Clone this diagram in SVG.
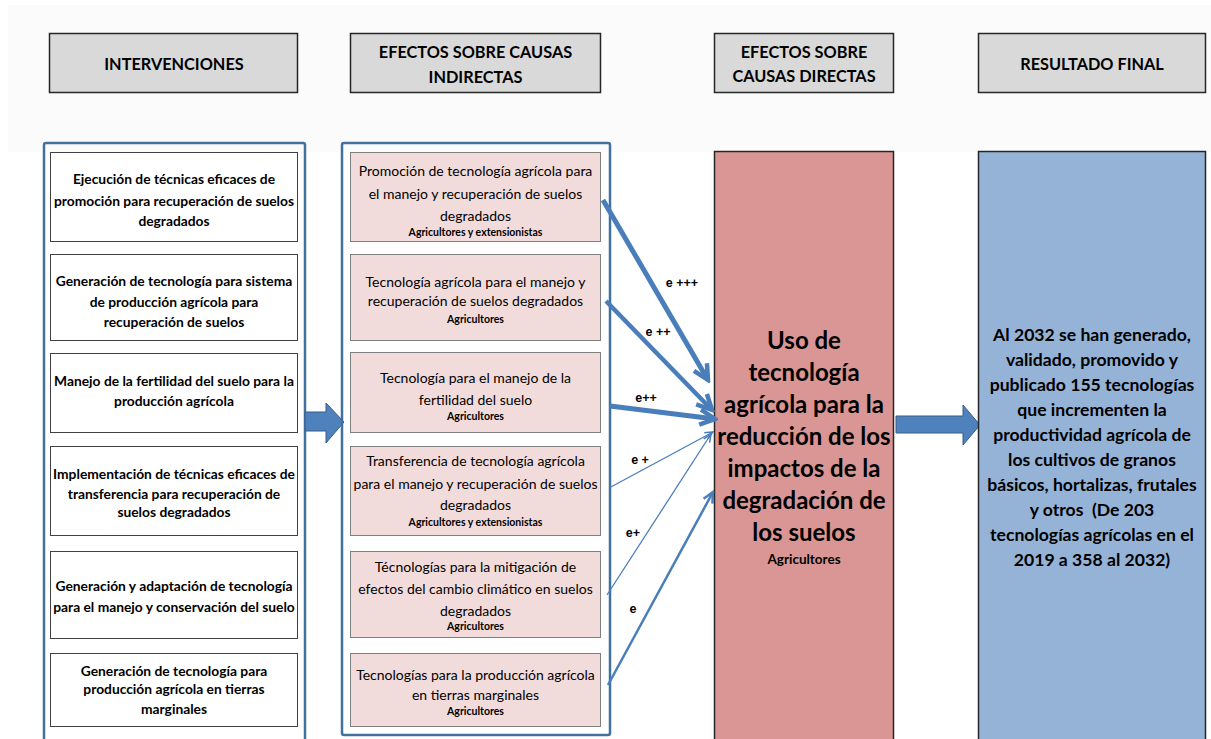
<svg xmlns="http://www.w3.org/2000/svg" width="1211" height="739" viewBox="0 0 1211 739">
<style>
text{font-family:Lato,"Open Sans","Liberation Sans",sans-serif;text-anchor:middle;fill:#000}
.hdr rect{fill:#D9D9D9;stroke:#262626;stroke-width:1.5}
.hdr text{font-weight:bold;font-size:16.3px}
.cont{fill:none;stroke:#41719C;stroke-width:2.5}
.lbox rect{fill:#fff;stroke:#404040;stroke-width:1}
.lbox text{font-weight:bold;font-size:13.8px}
.mbox rect{fill:#F2DCDB;stroke:#7F7F7F;stroke-width:1}
.mbox text{font-size:14px}
.mbox text.s{font-weight:bold;font-size:10.5px}
.blk{fill:#4F81BD;stroke:#385D8A;stroke-width:1}
.con{stroke:#4A7EBB;fill:none}
.lab{font-family:"Liberation Sans",Arial,sans-serif;font-weight:bold;font-size:12.5px}
</style>
<defs>
<marker id="mThick" markerUnits="userSpaceOnUse" viewBox="0 0 20 20" markerWidth="20" markerHeight="20" refX="17" refY="10" orient="auto">
<path d="M2,2.5 L17,10 L2,17.5" fill="none" stroke="#4A7EBB" stroke-width="4.5" stroke-linejoin="miter"/>
</marker>
<marker id="mMed" markerUnits="userSpaceOnUse" viewBox="0 0 14 14" markerWidth="14" markerHeight="14" refX="12" refY="7" orient="auto">
<path d="M1.5,2 L12,7 L1.5,12" fill="none" stroke="#4A7EBB" stroke-width="2.5"/>
</marker>
<marker id="mThin" markerUnits="userSpaceOnUse" viewBox="0 0 10 10" markerWidth="10" markerHeight="10" refX="9" refY="5" orient="auto">
<path d="M1,1.5 L9,5 L1,8.5" fill="none" stroke="#4A7EBB" stroke-width="1.5"/>
</marker>
</defs>
<rect x="0" y="0" width="1211" height="739" fill="#fff"/>
<rect x="8" y="5" width="1203" height="147" fill="#FBFBFB"/>

<g id="hdr-intervenciones" class="hdr">
<rect x="49.5" y="33.5" width="248" height="59"/>
<text x="174" y="70">INTERVENCIONES</text>
</g>
<g id="hdr-indirectas" class="hdr">
<rect x="350.5" y="33.5" width="250" height="59"/>
<text x="475.5" y="58">EFECTOS SOBRE CAUSAS</text>
<text x="475.5" y="83">INDIRECTAS</text>
</g>
<g id="hdr-directas" class="hdr">
<rect x="714.5" y="33.5" width="179" height="59"/>
<text x="804" y="58">EFECTOS SOBRE</text>
<text x="804" y="82">CAUSAS DIRECTAS</text>
</g>
<g id="hdr-resultado" class="hdr">
<rect x="978.5" y="33.5" width="227" height="59"/>
<text x="1092" y="70">RESULTADO FINAL</text>
</g>

<g id="intervenciones">
<rect class="cont" x="44" y="143" width="261" height="620" rx="2"/>
<g id="int-1" class="lbox">
<rect x="50.5" y="152.5" width="247" height="89"/>
<text x="174" y="184">Ejecución de técnicas eficaces de</text>
<text x="174" y="206">promoción para recuperación de suelos</text>
<text x="174" y="226">degradados</text>
</g>
<g id="int-2" class="lbox">
<rect x="50.5" y="254.5" width="247" height="86"/>
<text x="174" y="286">Generación de tecnología para sistema</text>
<text x="174" y="307">de producción agrícola para</text>
<text x="174" y="327">recuperación de suelos</text>
</g>
<g id="int-3" class="lbox">
<rect x="50.5" y="353.5" width="247" height="79"/>
<text x="174" y="386">Manejo de la fertilidad del suelo para la</text>
<text x="174" y="406">producción agrícola</text>
</g>
<g id="int-4" class="lbox">
<rect x="50.5" y="446.5" width="247" height="89"/>
<text x="174" y="479">Implementación de técnicas eficaces de</text>
<text x="174" y="499">transferencia para recuperación de</text>
<text x="174" y="517">suelos degradados</text>
</g>
<g id="int-5" class="lbox">
<rect x="50.5" y="551.5" width="247" height="87"/>
<text x="174" y="591">Generación y adaptación de tecnología</text>
<text x="174" y="612">para el manejo y conservación del suelo</text>
</g>
<g id="int-6" class="lbox">
<rect x="50.5" y="653.5" width="247" height="73"/>
<text x="174" y="676">Generación de tecnología para</text>
<text x="174" y="694">producción agrícola en tierras</text>
<text x="174" y="714">marginales</text>
</g>
</g>

<g id="arrow-left">
<polygon class="blk" points="305,412 326,412 326,403 344,422 326,443 326,431 305,431"/>
</g>

<g id="indirectas">
<rect class="cont" x="342" y="143" width="268" height="592" rx="2"/>
<g id="ind-1" class="mbox">
<rect x="350.5" y="152.5" width="250" height="89"/>
<text x="475.5" y="176">Promoción de tecnología agrícola para</text>
<text x="475.5" y="199">el manejo y recuperación de suelos</text>
<text x="475.5" y="221">degradados</text>
<text class="s" x="475.5" y="235.5">Agricultores y extensionistas</text>
</g>
<g id="ind-2" class="mbox">
<rect x="350.5" y="254.5" width="250" height="86"/>
<text x="475.5" y="287">Tecnología agrícola para el manejo y</text>
<text x="475.5" y="306">recuperación de suelos degradados</text>
<text class="s" x="475.5" y="322.5">Agricultores</text>
</g>
<g id="ind-3" class="mbox">
<rect x="350.5" y="352.5" width="250" height="80"/>
<text x="475.5" y="383">Tecnología para el manejo de la</text>
<text x="475.5" y="405">fertilidad del suelo</text>
<text class="s" x="475.5" y="419.5">Agricultores</text>
</g>
<g id="ind-4" class="mbox">
<rect x="350.5" y="446.5" width="250" height="89"/>
<text x="475.5" y="466">Transferencia de tecnología agrícola</text>
<text x="475.5" y="489">para el manejo y recuperación de suelos</text>
<text x="475.5" y="510">degradados</text>
<text class="s" x="475.5" y="525.5">Agricultores y extensionistas</text>
</g>
<g id="ind-5" class="mbox">
<rect x="350.5" y="551.5" width="250" height="86"/>
<text x="475.5" y="572">Técnologías para la mitigación de</text>
<text x="475.5" y="594">efectos del cambio climático en suelos</text>
<text x="475.5" y="616">degradados</text>
<text class="s" x="475.5" y="629.5">Agricultores</text>
</g>
<g id="ind-6" class="mbox">
<rect x="350.5" y="653.5" width="250" height="73"/>
<text x="475.5" y="680">Tecnologías para la producción agrícola</text>
<text x="475.5" y="700">en tierras marginales</text>
<text class="s" x="475.5" y="714.5">Agricultores</text>
</g>
</g>

<g id="directas">
<rect x="714.5" y="151.5" width="179" height="600" fill="#D99694" stroke="#262626" stroke-width="1.5"/>
<g font-weight="bold" font-size="24px">
<text x="804" y="349">Uso de</text>
<text x="804" y="381">tecnología</text>
<text x="804" y="413">agrícola para la</text>
<text x="804" y="445">reducción de los</text>
<text x="804" y="477">impactos de la</text>
<text x="804" y="509">degradación de</text>
<text x="804" y="541">los suelos</text>
</g>
<text x="804" y="564" font-weight="bold" font-size="13.5px">Agricultores</text>
</g>

<g id="arrow-right">
<polygon class="blk" points="896,416 963,416 963,405 980,425 963,445 963,433 896,433"/>
</g>

<g id="resultado">
<rect x="978.5" y="151.5" width="227" height="600" fill="#95B3D7" stroke="#262626" stroke-width="1.5"/>
<g font-weight="bold" font-size="17.6px">
<text x="1092" y="341">Al 2032 se han generado,</text>
<text x="1092" y="366">validado, promovido y</text>
<text x="1092" y="391">publicado 155 tecnologías</text>
<text x="1092" y="416">que incrementen la</text>
<text x="1092" y="441">productividad agrícola de</text>
<text x="1092" y="466">los cultivos de granos</text>
<text x="1092" y="491">básicos, hortalizas, frutales</text>
<text x="1092" y="516" xml:space="preserve">y otros  (De 203</text>
<text x="1092" y="541">tecnologías agrícolas en el</text>
<text x="1092" y="566">2019 a 358 al 2032)</text>
</g>
</g>

<g id="connectors">
<line class="con" x1="603" y1="200" x2="708" y2="380" stroke-width="5" marker-end="url(#mThick)"/>
<line class="con" x1="606" y1="301" x2="712" y2="410" stroke-width="4.5" marker-end="url(#mThick)"/>
<line class="con" x1="610" y1="406" x2="715" y2="419" stroke-width="5" marker-end="url(#mThick)"/>
<line class="con" x1="609" y1="488" x2="713" y2="432" stroke-width="1.3" marker-end="url(#mThin)"/>
<line class="con" x1="607" y1="595" x2="711" y2="434" stroke-width="1.3" marker-end="url(#mThin)"/>
<line class="con" x1="608" y1="685" x2="713" y2="492" stroke-width="2.5" marker-end="url(#mMed)"/>
<text class="lab" x="682" y="287">e +++</text>
<text class="lab" x="658" y="336">e ++</text>
<text class="lab" x="646" y="402">e++</text>
<text class="lab" x="640" y="464">e +</text>
<text class="lab" x="633" y="537">e+</text>
<text class="lab" x="633" y="613">e</text>
</g>
</svg>
